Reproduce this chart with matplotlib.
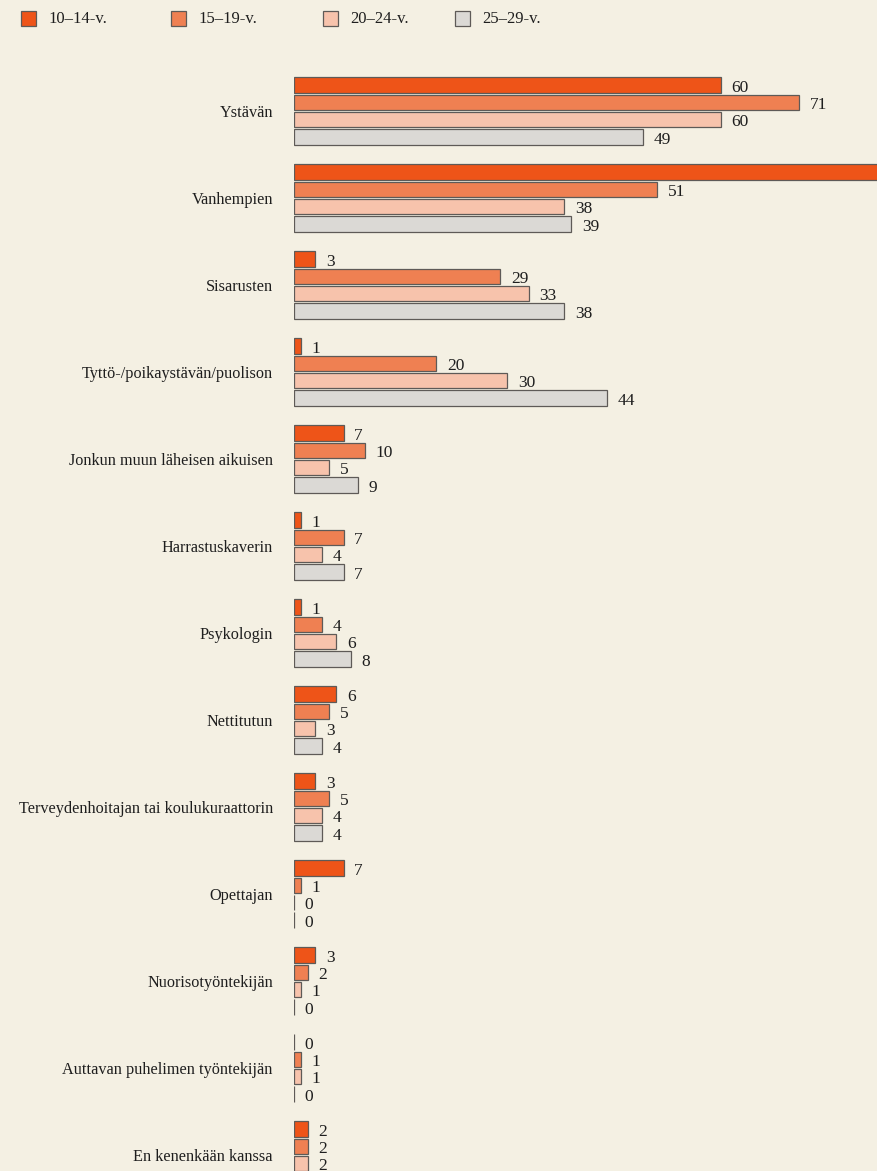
"""
Kenen kanssa nuoret puhuvat vaikeista asioista -- grouped horizontal bars
by age group, redrawn from a scanned book page.
"""

import matplotlib
matplotlib.use("Agg")
import matplotlib.pyplot as plt
from matplotlib.patches import Rectangle
import numpy as np

# --- data -------------------------------------------------------------
groups = [
    "Ystävän",
    "Vanhempien",
    "Sisarusten",
    "Tyttö-/poikaystävän/puolison",
    "Jonkun muun läheisen aikuisen",
    "Harrastuskaverin",
    "Psykologin",
    "Nettitutun",
    "Terveydenhoitajan tai koulukuraattorin",
    "Opettajan",
    "Nuorisotyöntekijän",
    "Auttavan puhelimen työntekijän",
    "En kenenkään kanssa",
]
age_labels = ["10–14-v.", "15–19-v.", "20–24-v.", "25–29-v."]

age_10_14 = [60, 84, 3, 1, 7, 1, 1, 6, 3, 7, 3, 0, 2]
age_15_19 = [71, 51, 29, 20, 10, 7, 4, 5, 5, 1, 2, 1, 2]
age_20_24 = [60, 38, 33, 30, 5, 4, 6, 3, 4, 0, 1, 1, 2]
age_25_29 = [49, 39, 38, 44, 9, 7, 8, 4, 4, 0, 0, 0, 2]

series = [age_10_14, age_15_19, age_20_24, age_25_29]
colors = ["#EE5418", "#EF8052", "#F7C3AC", "#DBD9D5"]
paper = "#F4F0E3"
edge = "#5E5A57"
font = "Liberation Serif"

W, H = 878, 1171
fig = plt.figure(figsize=(W / 100, H / 100), dpi=100, facecolor=paper)

# plot area: bars start at x=294 px, 1 % = 7.12 px, group pitch 87 px
x0_px, px_per_unit = 293.7, 7.12
ax = fig.add_axes([x0_px / W, 0, 1 - x0_px / W, 1])
ax.set_facecolor(paper)
xmax = (W - x0_px) / px_per_unit
ax.set_xlim(0, xmax)
ax.set_ylim((H - 111) / 87, -111 / 87)

y = np.arange(len(groups))
offsets = [-0.3, -0.1, 0.1, 0.3]
bar_h = 0.178

for vals, off, col in zip(series, offsets, colors):
    ax.barh(y + off, vals, height=bar_h, color=col, edgecolor=edge,
            linewidth=0.9, zorder=2)
    for yi, v in zip(y, vals):
        if v + 1.5 > xmax:
            continue  # label falls off the page, as in the scan
        ax.text(v + 1.5, yi + off + 0.03, str(v), va="center", ha="left",
                fontsize=12.5, family=font, color="#1E1E1E")

ax.set_yticks(y)
ax.set_yticklabels(groups, family=font, fontsize=11.7, color="#1E1E1E")
ax.tick_params(axis="y", length=0, pad=15)
ax.set_xticks([])
for s in ax.spines.values():
    s.set_visible(False)

# legend row across the top of the page
legend_x = [21, 171, 323, 455]
for lx, col, lab in zip(legend_x, colors, age_labels):
    fig.add_artist(Rectangle((lx / W, 1 - 26 / H), 15 / W, 15 / H,
                             transform=fig.transFigure, facecolor=col,
                             edgecolor=edge, linewidth=0.9))
    fig.text((lx + 27) / W, 1 - 19 / H, lab, va="center", ha="left",
             fontsize=12, family=font, color="#1E1E1E")

fig.savefig("out.png", dpi=100, facecolor=paper)
